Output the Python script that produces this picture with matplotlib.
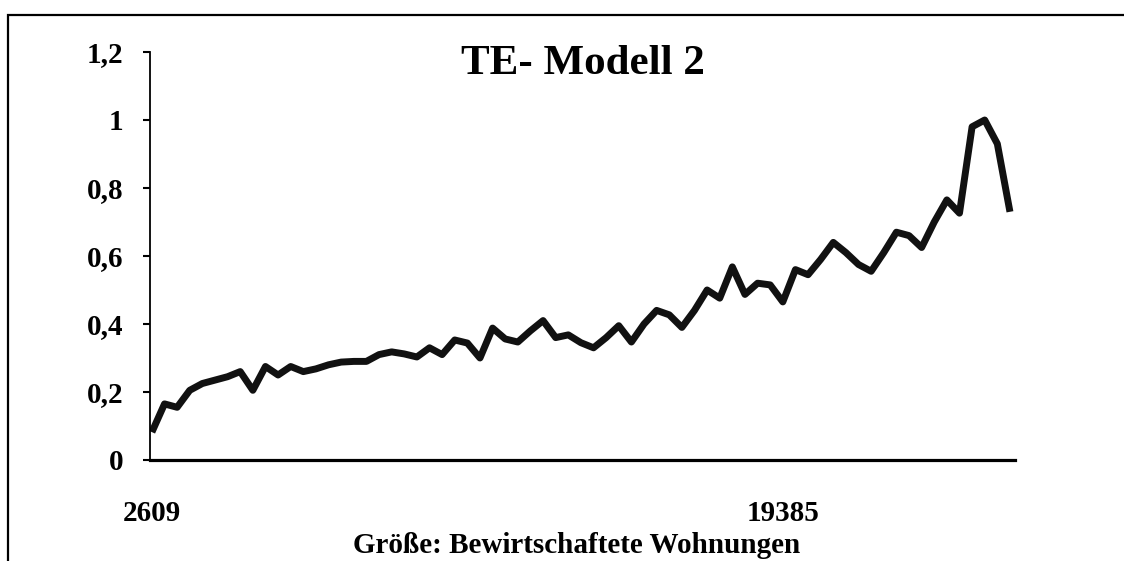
import matplotlib
matplotlib.use('Agg')
import matplotlib.pyplot as plt
from matplotlib.patches import Rectangle

# TE values per size class (sorted by number of managed flats)
te_values = [0.082, 0.165, 0.155, 0.205, 0.225, 0.235, 0.245, 0.26, 0.205, 0.275,
             0.25, 0.275, 0.26, 0.268, 0.28, 0.288, 0.29, 0.29, 0.31, 0.318,
             0.312, 0.303, 0.33, 0.31, 0.353, 0.344, 0.30, 0.388, 0.356, 0.347,
             0.38, 0.41, 0.36, 0.368, 0.345, 0.33, 0.36, 0.395, 0.347, 0.40,
             0.44, 0.427, 0.39, 0.44, 0.50, 0.476, 0.568, 0.487, 0.52, 0.515,
             0.465, 0.56, 0.545, 0.59, 0.64, 0.61, 0.575, 0.555, 0.61, 0.67,
             0.66, 0.625, 0.70, 0.765, 0.726, 0.98, 1.0, 0.93, 0.73]
x_tick_pos = [0, 50]
x_tick_labels = ['2609', '19385']
y_ticks = [0, 0.2, 0.4, 0.6, 0.8, 1.0, 1.2]
y_tick_labels = ['0', '0,2', '0,4', '0,6', '0,8', '1', '1,2']

plt.rcParams['font.family'] = ['Liberation Serif', 'DejaVu Serif']
plt.rcParams['font.weight'] = 'bold'

fig = plt.figure(figsize=(11.24, 5.61), dpi=100)
fig.patch.set_facecolor('white')
ax = fig.add_axes([150 / 1124, 1 - 460 / 561, 865 / 1124, 408 / 561])

x = list(range(len(te_values)))
ax.plot(x, te_values, color='#111111', lw=5, solid_joinstyle='round',
        solid_capstyle='butt')

ax.set_xlim(-0.15, 68.4)
ax.set_ylim(0, 1.2)
ax.set_yticks(y_ticks)
ax.set_yticklabels(y_tick_labels, fontsize=21, fontweight='bold')
ax.set_xticks(x_tick_pos)
ax.set_xticklabels(x_tick_labels, fontsize=21, fontweight='bold')
ax.tick_params(axis='y', direction='out', length=5, width=1.5, pad=14)
ax.tick_params(axis='x', length=0, pad=29)

for s in ['top', 'right']:
    ax.spines[s].set_visible(False)
ax.spines['left'].set_linewidth(1.3)
ax.spines['bottom'].set_linewidth(2.3)

ax.text(0.5, 0.97, 'TE- Modell 2', transform=ax.transAxes, ha='center',
        va='center', fontsize=31, fontweight='bold')
fig.text(577 / 1124, 2 / 561, 'Größe: Bewirtschaftete Wohnungen',
         ha='center', va='bottom', fontsize=21, fontweight='bold')

# outer frame of the page box
fig.add_artist(Rectangle((8 / 1124, -0.1), 1.2, 1 - 15 / 561 + 0.1, fill=False,
                         lw=1.6, edgecolor='black', transform=fig.transFigure))

fig.savefig('out.png', dpi=100)
